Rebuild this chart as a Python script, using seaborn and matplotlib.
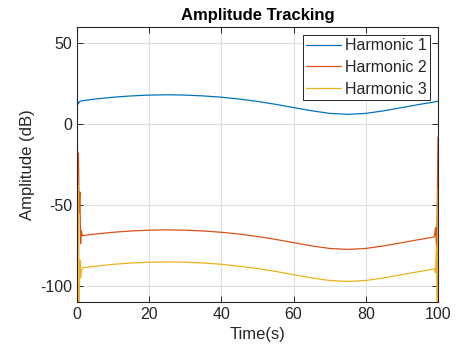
import matplotlib
matplotlib.use("Agg")
import matplotlib.pyplot as plt
import seaborn as sns
import pandas as pd

# Sample times (s): dense around the start-up and end transients
time_s = [0.0, 0.2, 0.4, 0.6, 0.8, 1.0, 1.2, 1.5,
          5, 10, 15, 20, 25, 30, 35, 40, 45, 50, 55, 60, 65, 70, 75,
          80, 85, 90, 95, 98.5, 99.0, 99.3, 99.6, 99.8, 100.0]

# Tracked amplitudes (dB)
harmonic_1 = [11.0, 13.0, 12.5, 14.0, 13.8, 14.2, 14.3, 14.45,
              15.45, 16.6, 17.4, 17.9, 18.1, 17.9, 17.4, 16.6, 15.45, 14.0, 12.2,
              10.2, 8.2, 6.6, 6.0, 6.6, 8.2, 10.2, 12.2, 13.5, 13.7, 13.8, 13.9, 14.2, 14.0]
harmonic_2 = [8.0, -30.0, -18.0, -55.0, -42.0, -74.0, -66.0, -69.0,
              -68.0, -66.9, -66.1, -65.6, -65.4, -65.6, -66.1, -66.9, -68.0, -69.5, -71.3,
              -73.3, -75.3, -76.9, -77.5, -76.9, -75.3, -73.3, -71.3, -70.0, -69.7, -64.0,
              -75.0, -48.0, -8.0]
harmonic_3 = [2.0, -60.0, -38.0, -112.0, -84.0, -95.0, -91.0, -88.9,
              -87.9, -86.7, -85.9, -85.4, -85.2, -85.4, -85.9, -86.7, -87.9, -89.3, -91.1,
              -93.1, -95.1, -96.7, -97.3, -96.7, -95.1, -93.1, -91.1, -89.8, -89.5, -92.0,
              -75.0, -112.0, -40.0]

series_names = ["Harmonic 1", "Harmonic 2", "Harmonic 3"]
colors = ["#0072BD", "#D95319", "#EDB120"]

x_ticks = [0, 20, 40, 60, 80, 100]
y_ticks = [-100, -50, 0, 50]

frames = []
for name, values in zip(series_names, [harmonic_1, harmonic_2, harmonic_3]):
    frames.append(pd.DataFrame({"Time": time_s, "Amplitude": values, "Series": name}))
df = pd.concat(frames, ignore_index=True)

sns.set_style("white")
plt.rcParams["font.family"] = ["Liberation Sans", "DejaVu Sans"]
plt.rcParams["axes.unicode_minus"] = False

edge = "#262626"
fig = plt.figure(figsize=(4.57, 3.56), dpi=100)
ax = fig.add_axes([77 / 457, 1 - 302 / 356, (438 - 77) / 457, (302 - 27) / 356])

sns.lineplot(data=df, x="Time", y="Amplitude", hue="Series",
             palette=dict(zip(series_names, colors)), estimator=None,
             sort=False, linewidth=0.9, ax=ax)

ax.set_xlim(0, 100)
ax.set_ylim(-110, 60)
ax.set_xticks(x_ticks)
ax.set_yticks(y_ticks)
ax.grid(True, color="#dfdfdf", linewidth=0.8)
ax.set_axisbelow(True)

for sp in ax.spines.values():
    sp.set_visible(True)
    sp.set_color(edge)
    sp.set_linewidth(0.8)

ax.tick_params(axis="both", which="both", direction="in", length=4, width=0.7,
               colors=edge, labelcolor=edge, labelsize=11.5,
               top=True, right=True, bottom=True, left=True)

ax.set_xlabel("Time(s)", fontsize=12, color=edge)
ax.set_ylabel("Amplitude (dB)", fontsize=12, color=edge)
ax.set_title("Amplitude Tracking", fontsize=12, fontweight="bold", color="black", pad=5)

leg = ax.legend(loc="upper right", fontsize=11.5, frameon=True, fancybox=False,
                framealpha=1, edgecolor=edge, borderpad=0.2, labelspacing=0.42,
                handlelength=2.2, handletextpad=0.25, borderaxespad=0.5)
leg.get_frame().set_linewidth(0.7)

fig.savefig("out.png", dpi=100)
